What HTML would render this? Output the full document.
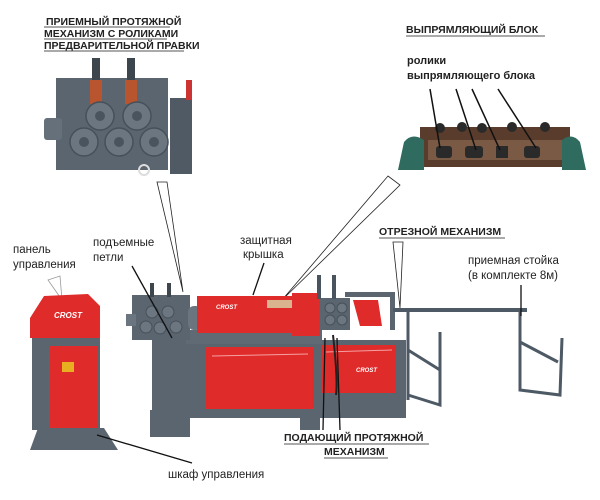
<!DOCTYPE html>
<html><head><meta charset="utf-8"><style>
html,body{margin:0;padding:0;background:#fff;}
svg{display:block;}
text{font-family:"Liberation Sans",sans-serif;fill:#222;}
.t{font-size:11.5px;}
.u{font-size:10.5px;font-weight:bold;}
</style></head><body>
<svg width="600" height="500" viewBox="0 0 600 500" xmlns="http://www.w3.org/2000/svg">
<rect width="600" height="500" fill="#fff"/>

<!-- top-left photo -->
<text class="u" x="46" y="25">ПРИЕМНЫЙ ПРОТЯЖНОЙ</text>
<text class="u" x="44" y="37">МЕХАНИЗМ С РОЛИКАМИ</text>
<text class="u" x="44" y="49">ПРЕДВАРИТЕЛЬНОЙ ПРАВКИ</text>
<g stroke="#555" stroke-width="1"><line x1="44" y1="27" x2="170" y2="27"/><line x1="44" y1="39" x2="167" y2="39"/><line x1="44" y1="51" x2="184" y2="51"/></g>
<rect x="56" y="78" width="112" height="92" fill="#5b6570"/>
<rect x="170" y="98" width="22" height="76" fill="#4f5a64"/>
<rect x="186" y="80" width="6" height="20" fill="#c33"/>
<rect x="44" y="118" width="18" height="22" rx="3" fill="#65707a"/>
<rect x="92" y="58" width="8" height="22" fill="#3d454d"/>
<rect x="127" y="58" width="8" height="22" fill="#3d454d"/>
<rect x="90" y="80" width="12" height="24" fill="#b8552e"/>
<rect x="125" y="80" width="12" height="24" fill="#b8552e"/>
<g fill="#6c7680" stroke="#46505a" stroke-width="1.5">
<circle cx="100" cy="116" r="14"/><circle cx="137" cy="116" r="14"/>
<circle cx="84" cy="142" r="14"/><circle cx="119" cy="142" r="14"/><circle cx="154" cy="142" r="14"/>
</g>
<g fill="#4a545e"><circle cx="100" cy="116" r="5"/><circle cx="137" cy="116" r="5"/><circle cx="84" cy="142" r="5"/><circle cx="119" cy="142" r="5"/><circle cx="154" cy="142" r="5"/></g>
<circle cx="144" cy="170" r="5" fill="none" stroke="#ddd" stroke-width="2"/>

<!-- top-right block -->
<text class="u" x="406" y="33">ВЫПРЯМЛЯЮЩИЙ БЛОК</text>
<line x1="406" y1="36" x2="545" y2="36" stroke="#555"/>
<text class="t" x="407" y="64" style="font-weight:bold;font-size:11px">ролики</text>
<text class="t" x="407" y="79" style="font-weight:bold;font-size:11px">выпрямляющего блока</text>
<rect x="420" y="127" width="150" height="40" fill="#5a3c2c"/>
<rect x="428" y="140" width="136" height="20" fill="#7a5a45"/>
<path d="M398 170 L404 142 Q412 132 424 140 L424 170 Z" fill="#2f6b5e"/>
<path d="M586 170 L580 142 Q572 132 562 140 L562 170 Z" fill="#2f6b5e"/>
<g fill="#2a2a2a"><rect x="436" y="146" width="16" height="12" rx="3"/><rect x="465" y="146" width="18" height="12" rx="3"/><rect x="496" y="146" width="12" height="12"/><rect x="524" y="146" width="16" height="12" rx="3"/>
<circle cx="440" cy="128" r="5"/><circle cx="462" cy="127" r="5"/><circle cx="482" cy="128" r="5"/><circle cx="512" cy="127" r="5"/><circle cx="545" cy="127" r="5"/></g>
<g stroke="#111" stroke-width="1.5"><line x1="430" y1="89" x2="440" y2="148"/><line x1="456" y1="89" x2="476" y2="150"/><line x1="472" y1="89" x2="500" y2="150"/><line x1="498" y1="89" x2="536" y2="148"/></g>

<!-- callout triangles -->
<path d="M157 182 L167 182 L183 292 Z" fill="none" stroke="#222" stroke-width="0.8"/>
<path d="M388 176 L400 185 L282 300 Z" fill="none" stroke="#222" stroke-width="0.8"/>
<path d="M393 242 L403 242 L400 308 Z" fill="none" stroke="#222" stroke-width="0.8"/>
<path d="M48 280 L60 276 L62 300 Z" fill="none" stroke="#999" stroke-width="0.8"/>

<!-- cabinet -->
<path d="M30 450 L38 428 L104 428 L118 450 Z" fill="#5b6570"/>
<rect x="32" y="336" width="68" height="94" fill="#5b6570"/>
<rect x="50" y="346" width="48" height="82" fill="#e02b2b"/>
<rect x="62" y="362" width="12" height="10" fill="#e8b020"/>
<path d="M30 318 L44 296 L88 294 L100 306 L100 338 L30 338 Z" fill="#e02b2b"/>
<text x="54" y="318" style="font-size:8px;font-weight:bold;font-style:italic;fill:#fff">CROST</text>

<!-- main machine -->
<rect x="152" y="340" width="254" height="78" fill="#5b6570"/>
<rect x="150" y="410" width="40" height="27" fill="#5b6570"/>
<rect x="300" y="410" width="20" height="20" fill="#5b6570"/>
<rect x="388" y="395" width="18" height="10" fill="#5b6570"/>
<rect x="206" y="347" width="108" height="62" fill="#e02b2b"/>
<line x1="212" y1="356" x2="308" y2="354" stroke="#f6a0a0"/>
<rect x="322" y="345" width="74" height="48" fill="#e02b2b"/>
<line x1="326" y1="352" x2="392" y2="350" stroke="#f6a0a0"/>
<text x="356" y="372" style="font-size:6px;font-weight:bold;font-style:italic;fill:#fff">CROST</text>
<rect x="186" y="330" width="136" height="14" fill="#606a74"/>
<rect x="132" y="295" width="58" height="45" fill="#5b6570"/>
<rect x="126" y="314" width="10" height="12" fill="#6b757f"/>
<g fill="#6c7680" stroke="#46505a"><circle cx="152" cy="312" r="6"/><circle cx="168" cy="312" r="6"/><circle cx="146" cy="327" r="6"/><circle cx="160" cy="328" r="6"/><circle cx="176" cy="327" r="6"/></g>
<rect x="150" y="283" width="4" height="14" fill="#3d454d"/><rect x="167" y="283" width="4" height="14" fill="#3d454d"/>
<rect x="188" y="306" width="14" height="24" rx="6" fill="#6b757f"/>
<rect x="197" y="296" width="101" height="37" fill="#e02b2b"/>
<text x="216" y="309" style="font-size:6px;font-weight:bold;font-style:italic;fill:#fff">CROST</text>
<rect x="267" y="300" width="25" height="8" fill="#d9b48e"/>
<rect x="292" y="293" width="28" height="43" fill="#e02b2b"/>
<rect x="320" y="298" width="30" height="32" fill="#5b6570"/>
<g fill="#6c7680" stroke="#46505a"><circle cx="330" cy="308" r="5"/><circle cx="342" cy="308" r="5"/><circle cx="330" cy="320" r="5"/><circle cx="342" cy="320" r="5"/></g>
<rect x="317" y="275" width="4" height="24" fill="#4a545e"/><rect x="332" y="275" width="4" height="24" fill="#4a545e"/>
<path d="M345 292 L395 292 L395 330 L390 330 L390 297 L345 297 Z" fill="#5b6570"/>
<path d="M353 300 L378 300 L382 326 L360 326 Z" fill="#e02b2b"/>
<path d="M333 335 Q338 380 336 395" stroke="#222" stroke-width="2" fill="none"/>

<!-- receiving rack -->
<rect x="393" y="308" width="134" height="4" fill="#4d5964"/>
<g stroke="#4d5964" stroke-width="3" fill="none">
<path d="M408 312 L408 400"/><path d="M408 350 L440 370"/><path d="M408 395 L440 405 L440 332"/><path d="M520 312 L520 390 L560 395 L562 338"/><path d="M520 342 L558 362"/>
</g>

<!-- labels -->
<text class="t" x="13" y="253">панель</text>
<text class="t" x="13" y="268">управления</text>
<text class="t" x="93" y="246">подъемные</text>
<text class="t" x="93" y="261">петли</text>
<text class="t" x="240" y="244">защитная</text>
<text class="t" x="243" y="258">крышка</text>
<text class="u" x="379" y="235">ОТРЕЗНОЙ МЕХАНИЗМ</text>
<line x1="379" y1="238" x2="505" y2="238" stroke="#555"/>
<text class="t" x="468" y="264">приемная стойка</text>
<text class="t" x="468" y="279">(в комплекте 8м)</text>
<text class="u" x="284" y="441">ПОДАЮЩИЙ ПРОТЯЖНОЙ</text>
<line x1="284" y1="444" x2="429" y2="444" stroke="#555"/>
<text class="u" x="324" y="455">МЕХАНИЗМ</text>
<line x1="324" y1="458" x2="388" y2="458" stroke="#555"/>
<text class="t" x="168" y="478">шкаф управления</text>

<!-- leaders -->
<g stroke="#111" stroke-width="1.3">
<line x1="132" y1="266" x2="172" y2="338"/>
<line x1="264" y1="263" x2="253" y2="295"/>
<line x1="521" y1="285" x2="521" y2="316"/>
<line x1="97" y1="435" x2="192" y2="463"/>
<line x1="325" y1="338" x2="323" y2="430"/>
<line x1="337" y1="338" x2="340" y2="430"/>
</g>
</svg>
</body></html>
